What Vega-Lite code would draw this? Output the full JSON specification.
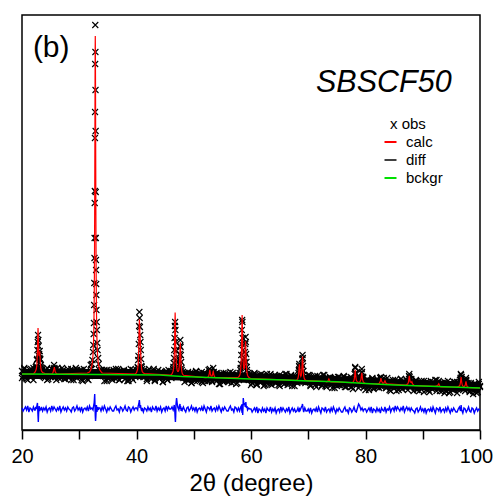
{
"$schema": "https://vega.github.io/schema/vega-lite/v6.json",
"width": 458, "height": 415,
"padding": {"left": 10, "top": 15, "right": 2, "bottom": 2},
"config": {"font": "Liberation Sans", "view": {"stroke": "black", "strokeWidth": 1.5}},
"data": {"values": [
{"t":20,"o":59,"p":52,"c":56,"d":22},{"t":20.2,"o":54,"p":58,"d":19},{"t":20.4,"o":61,"p":62,"d":21},{"t":20.6,"o":52,"p":55,"d":23},{"t":20.8,"o":57,"p":51,"d":20},{"t":21,"o":50,"p":59,"d":24},{"t":21.2,"o":58,"p":56,"d":18},{"t":21.4,"o":60,"p":53,"d":22},{"t":21.6,"o":53,"p":61,"d":21},{"t":21.8,"o":56,"p":57,"d":19},{"t":22,"o":62,"p":50,"d":23,"c":56},{"t":22.2,"o":55,"p":60,"d":20},
{"t":22.3,"o":60,"c":58,"d":20},{"t":22.35,"o":56},{"t":22.4,"o":63,"d":23},{"t":22.45,"o":58},{"t":22.5,"o":64,"c":61,"d":21},{"t":22.55,"o":62},{"t":22.6,"o":70,"c":65.5,"d":24},{"t":22.65,"o":71},{"t":22.7,"o":80,"c":79,"d":27},{"t":22.75,"o":88,"c":92.6},{"t":22.8,"o":95,"c":102,"d":14},{"t":22.85,"o":90,"c":93.7,"d":8},{"t":22.9,"o":84,"c":81.6,"d":16},{"t":22.95,"o":74,"c":75},{"t":23,"o":76,"c":73.8,"d":24},{"t":23.05,"o":72,"c":76.5},{"t":23.1,"o":79,"c":78.4,"d":19},{"t":23.15,"o":70,"c":73.7},{"t":23.2,"o":71,"c":67.6,"d":22},{"t":23.25,"o":63},{"t":23.3,"o":65,"c":61.3,"d":20},{"t":23.35,"o":58},{"t":23.4,"o":62,"c":59,"d":23},{"t":23.45,"o":57},{"t":23.5,"o":60},{"t":23.6,"o":61,"p":54,"c":57.4,"d":19},{"t":23.8,"o":53,"p":58,"d":22},
{"t":24,"o":55,"p":52,"d":20,"c":56.5},{"t":24.2,"o":60,"p":56,"d":23},{"t":24.4,"o":50,"p":62,"d":18},{"t":24.6,"o":58,"p":51,"d":21},{"t":24.8,"o":56,"p":59,"d":22},{"t":25,"o":53,"p":55,"d":19},{"t":25.2,"o":61,"p":61,"d":24,"c":56},{"t":25.4,"o":55,"p":53,"d":20,"c":57},{"t":25.6,"o":65,"p":61,"d":23,"c":61.6},{"t":25.65,"o":62,"c":63},{"t":25.8,"o":53,"p":61,"d":21,"c":58.2},{"t":26,"o":57,"p":50,"d":19,"c":56.5},{"t":26.2,"o":62,"p":57,"d":22,"c":56},{"t":26.4,"o":52,"p":60,"d":20},{"t":26.6,"o":55,"p":54,"d":24},{"t":26.8,"o":58,"p":52,"d":18},{"t":27,"o":53,"p":62,"d":21},{"t":27.2,"o":60,"p":58,"d":23},{"t":27.4,"o":56,"p":51,"d":20},{"t":27.6,"o":51,"p":56,"d":22},{"t":27.8,"o":59,"p":55,"d":19},
{"t":28,"o":58,"p":61,"d":23},{"t":28.2,"o":52,"p":53,"d":21},{"t":28.4,"o":57,"p":57,"d":20},{"t":28.6,"o":61,"p":50,"d":18},{"t":28.8,"o":54,"p":60,"d":22},{"t":29,"o":50,"p":58,"d":23},{"t":29.2,"o":59,"p":55,"d":19},{"t":29.4,"o":56,"p":62,"d":21},{"t":29.6,"o":60,"p":52,"d":24},{"t":29.8,"o":53,"p":56,"d":20},{"t":30,"o":54,"p":58,"d":22},{"t":30.2,"o":60,"p":53,"d":19},{"t":30.4,"o":50,"p":60,"d":23},{"t":30.6,"o":57,"p":49,"d":18},{"t":30.8,"o":61,"p":57,"d":21},{"t":31,"o":53,"p":52,"d":22},{"t":31.2,"o":56,"p":59,"d":20},{"t":31.4,"o":51,"p":55,"d":23,"c":57},{"t":31.6,"o":58,"p":50,"d":19},{"t":31.8,"o":54,"p":56,"d":24,"c":58},
{"t":32,"o":57,"p":65,"d":21,"c":60},{"t":32.1,"o":61,"c":62},{"t":32.2,"o":66,"c":64,"d":22},{"t":32.3,"o":70,"c":68},{"t":32.4,"o":78,"c":75,"d":20},{"t":32.46,"o":85},{"t":32.5,"c":89,"d":24},{"t":32.52,"o":96},{"t":32.55,"c":102},{"t":32.56,"o":107},{"t":32.6,"o":125,"c":123,"d":27},{"t":32.63,"o":147},{"t":32.64,"c":150},{"t":32.65,"d":31},{"t":32.66,"o":172},{"t":32.67,"c":181},{"t":32.68,"o":192},{"t":32.7,"o":227,"c":225,"d":36},{"t":32.72,"o":239,"c":262},{"t":32.74,"o":292,"c":304},{"t":32.75,"d":25},{"t":32.76,"o":318,"c":347},{"t":32.78,"o":366,"c":381},{"t":32.8,"o":405,"c":394,"d":14},{"t":32.82,"o":378,"c":381},{"t":32.84,"o":340,"c":347},{"t":32.85,"d":9},{"t":32.86,"o":299,"c":304},{"t":32.88,"o":238,"c":262},{"t":32.9,"o":192,"c":225,"d":13},{"t":32.92,"o":170},{"t":32.93,"c":181},{"t":32.94,"o":160},{"t":32.95,"d":19},{"t":32.96,"o":146,"c":150},{"t":32.98,"o":135},{"t":33,"o":120,"c":123,"d":25},{"t":33.04,"o":108},{"t":33.05,"c":102},{"t":33.08,"o":100},{"t":33.1,"c":89,"d":18},{"t":33.14,"o":87},{"t":33.2,"o":80,"c":75,"d":23},{"t":33.3,"o":72,"c":68,"d":20},{"t":33.4,"o":66,"c":64,"d":22},{"t":33.5,"o":60,"c":62},{"t":33.6,"o":56,"p":56,"d":22,"c":60},{"t":33.8,"o":60,"p":56,"d":19,"c":58.4},
{"t":34,"o":56,"p":60,"d":23,"c":57},{"t":34.2,"o":58,"p":54,"d":20},{"t":34.4,"o":49,"p":60,"d":24},{"t":34.6,"o":55,"p":58,"d":21},{"t":34.8,"o":60,"p":49,"d":18},{"t":35,"o":52,"p":57,"d":22},{"t":35.2,"o":57,"p":59,"d":20},{"t":35.4,"o":53,"p":54,"d":23},{"t":35.6,"o":59,"p":51,"d":21},{"t":35.8,"o":50,"p":55,"d":19},
{"t":36,"o":56,"p":60,"d":19},{"t":36.2,"o":54,"p":52,"d":22},{"t":36.4,"o":61,"p":56,"d":24},{"t":36.6,"o":52,"p":53,"d":20},{"t":36.8,"o":58,"p":61,"d":21},{"t":37,"o":50,"p":50,"d":18},{"t":37.2,"o":55,"p":58,"d":23},{"t":37.4,"o":59,"p":55,"d":22},{"t":37.6,"o":53,"p":54,"d":19},{"t":37.8,"o":60,"p":59,"d":21},{"t":38,"o":51,"p":51,"d":24},{"t":38.2,"o":57,"p":57,"d":20},{"t":38.4,"o":54,"p":49,"d":19},{"t":38.6,"o":49,"p":51,"d":23},{"t":38.8,"o":58,"p":57,"d":22},{"t":39,"o":56,"p":61,"d":18},{"t":39.2,"o":52,"p":54,"d":21},{"t":39.4,"o":60,"p":50,"d":23},{"t":39.6,"o":55,"p":58,"d":20},{"t":39.8,"o":53,"p":55,"d":22,"c":56},
{"t":39.9,"o":57},{"t":40,"o":60,"c":57.4,"d":22},{"t":40.1,"o":56},{"t":40.2,"o":63,"c":60.9,"d":20},{"t":40.25,"o":62},{"t":40.3,"o":70,"c":66.4,"d":24},{"t":40.35,"o":74},{"t":40.4,"o":86,"c":82.5,"d":26},{"t":40.45,"o":104,"c":98.6},{"t":40.5,"o":118,"c":110.8,"d":30},{"t":40.55,"o":112,"c":105.2,"d":27},{"t":40.6,"o":103,"c":97.1,"d":22},{"t":40.65,"o":95,"c":92.1},{"t":40.7,"o":88,"c":82.4,"d":25},{"t":40.75,"o":80},{"t":40.8,"o":71,"c":66.7,"d":21},{"t":40.85,"o":64},{"t":40.9,"o":63,"c":60.9,"d":19},{"t":40.95,"o":58},{"t":41,"o":61,"c":58.5,"d":22},
{"t":41.2,"o":58,"p":53,"d":18,"c":57},{"t":41.4,"o":53,"p":60,"d":22,"c":56.5},{"t":41.6,"o":58,"p":56,"d":21},{"t":41.8,"o":51,"p":49,"d":19},{"t":42,"o":55,"p":59,"d":23},{"t":42.2,"o":61,"p":53,"d":20},{"t":42.4,"o":52,"p":57,"d":22},{"t":42.6,"o":57,"p":51,"d":18},{"t":42.8,"o":54,"p":55,"d":23},{"t":43,"o":59,"p":61,"d":21},{"t":43.2,"o":49,"p":50,"d":20},{"t":43.4,"o":56,"p":58,"d":24},{"t":43.6,"o":58,"p":54,"d":19},{"t":43.8,"o":53,"p":60,"d":22},
{"t":44,"o":52,"p":51,"d":20},{"t":44.2,"o":57,"p":54,"d":23},{"t":44.4,"o":58,"p":57,"d":18},{"t":44.6,"o":48,"p":48,"d":21},{"t":44.8,"o":55,"p":55,"d":22},{"t":45,"o":53,"p":58,"d":19},{"t":45.2,"o":59,"p":52,"d":24},{"t":45.4,"o":50,"p":50,"d":20},{"t":45.6,"o":54,"p":60,"d":23},{"t":45.8,"o":56,"p":56,"d":21,"c":55},
{"t":46,"o":57,"c":55.1,"d":21},{"t":46.1,"o":52},{"t":46.2,"o":58,"c":56,"d":23},{"t":46.3,"o":55},{"t":46.4,"o":61,"c":58.9,"d":20},{"t":46.45,"o":63},{"t":46.5,"o":67,"c":62.9,"d":22},{"t":46.55,"o":72},{"t":46.6,"o":80,"c":73.7,"d":25},{"t":46.65,"o":92,"c":85.8},{"t":46.7,"o":104,"c":104.8,"d":18},{"t":46.75,"o":108,"c":117.4,"d":12},{"t":46.8,"o":100,"c":104.9,"d":8},{"t":46.85,"o":88,"c":86,"d":14},{"t":46.9,"o":79,"c":74,"d":26},{"t":46.95,"o":70},{"t":47,"o":68,"c":63.5,"d":32},{"t":47.1,"o":62,"c":59.8,"d":27},{"t":47.2,"o":60,"c":58.5,"d":23},{"t":47.3,"o":57,"c":58.5},{"t":47.4,"o":63,"c":60,"d":20},{"t":47.45,"o":66},{"t":47.5,"o":70,"c":65.3,"d":24},{"t":47.55,"o":76,"c":71.4},{"t":47.6,"o":84,"c":81.2,"d":26},{"t":47.65,"o":90,"c":87.7,"d":21},{"t":47.7,"o":83,"c":81,"d":24},{"t":47.75,"o":75,"c":71},{"t":47.8,"o":68,"c":64.6,"d":19},{"t":47.85,"o":62},{"t":47.9,"o":60,"c":58.9,"d":22},{"t":48,"o":55,"c":56.4,"d":20},{"t":48.1,"o":58},{"t":48.2,"o":52,"c":54.7,"d":23},
{"t":48.4,"o":55,"p":48,"d":20},{"t":48.6,"o":53,"p":53,"d":18},{"t":48.8,"o":50,"p":52,"d":22},{"t":49,"o":56,"p":58,"d":23},{"t":49.2,"o":51,"p":50,"d":19},{"t":49.4,"o":57,"p":54,"d":21},{"t":49.6,"o":47,"p":47,"d":24},{"t":49.8,"o":54,"p":57,"d":20},{"t":50,"o":55,"p":55,"d":22},{"t":50.2,"o":49,"p":52,"d":19},{"t":50.4,"o":58,"p":59,"d":23},{"t":50.6,"o":52,"p":49,"d":18},{"t":50.8,"o":50,"p":53,"d":21},{"t":51,"o":53,"p":56,"d":22},{"t":51.2,"o":56,"p":51,"d":20},{"t":51.4,"o":48,"p":58,"d":23},{"t":51.6,"o":54,"p":47,"d":19},{"t":51.8,"o":57,"p":55,"d":24},
{"t":52,"o":52,"p":49,"d":21,"c":52.3},{"t":52.2,"o":54,"p":56,"d":18},{"t":52.4,"o":49,"p":52,"d":23,"c":52.6},{"t":52.6,"o":60,"p":49,"d":22,"c":53.7},{"t":52.7,"o":57,"c":56.1},{"t":52.8,"o":58,"p":61,"d":20,"c":60.2},{"t":52.9,"o":59,"c":56.3},{"t":53,"o":55,"p":58,"d":24,"c":54},{"t":53.2,"o":48,"p":49,"d":19,"c":53.9},{"t":53.3,"o":57,"c":55.7},{"t":53.4,"o":62,"p":57,"d":21,"c":59.2},{"t":53.5,"o":58,"c":55.7},{"t":53.6,"o":52,"p":56,"d":22,"c":53.5},{"t":53.8,"o":56,"p":51,"d":19,"c":52.4},{"t":54,"o":49,"p":57,"d":23},{"t":54.2,"o":52,"p":55,"d":20},{"t":54.4,"o":54,"p":46,"d":24},{"t":54.6,"o":46,"p":54,"d":21},{"t":54.8,"o":56,"p":56,"d":18},{"t":55,"o":50,"p":51,"d":22},{"t":55.2,"o":57,"p":48,"d":20},{"t":55.4,"o":49,"p":52,"d":23},{"t":55.6,"o":53,"p":57,"d":21},{"t":55.8,"o":51,"p":49,"d":19},
{"t":56,"o":48,"p":53,"d":19},{"t":56.2,"o":53,"p":50,"d":22},{"t":56.4,"o":55,"p":58,"d":24},{"t":56.6,"o":50,"p":47,"d":20},{"t":56.8,"o":57,"p":55,"d":21},{"t":57,"o":48,"p":51,"d":18},{"t":57.2,"o":51,"p":50,"d":23},{"t":57.4,"o":46,"p":55,"d":22},{"t":57.6,"o":55,"p":47,"d":19,"c":52.5},
{"t":57.8,"o":55,"c":52.7,"d":22},{"t":57.9,"o":50},{"t":58,"o":57,"c":54.3,"d":19},{"t":58.1,"o":54,"c":56.1},{"t":58.15,"o":60},{"t":58.2,"o":62,"c":60.2,"d":23},{"t":58.25,"o":66},{"t":58.3,"o":75,"c":71,"d":24},{"t":58.35,"o":86,"c":83.2},{"t":58.4,"o":100,"c":102.2,"d":19},{"t":58.45,"o":110,"c":115,"d":17},{"t":58.5,"o":108,"c":102.5,"d":26},{"t":58.55,"o":92,"c":83.9,"d":15},{"t":58.6,"o":80,"c":72,"d":22},{"t":58.65,"o":70,"d":32},{"t":58.7,"o":66,"c":62.4,"d":29},{"t":58.75,"o":62},{"t":58.8,"o":65,"c":60.7,"d":25},{"t":58.85,"o":68},{"t":58.9,"o":72,"c":65.1,"d":27},{"t":58.95,"o":78,"c":71.4},{"t":59,"o":86,"c":81.8,"d":23},{"t":59.05,"o":93,"c":88.7,"d":25},{"t":59.1,"o":88,"c":81.3,"d":28},{"t":59.15,"o":76,"c":70.3},{"t":59.2,"o":68,"c":63.3,"d":22},{"t":59.25,"o":63},{"t":59.3,"o":60,"c":57,"d":24},{"t":59.4,"o":55,"c":54.5,"d":20},{"t":59.5,"o":57},{"t":59.6,"o":50,"c":52.7,"d":22},{"t":59.8,"o":56,"p":53,"d":21,"c":52},
{"t":60,"o":53,"p":45,"d":21,"c":51.5},{"t":60.2,"o":47,"p":47,"d":18},{"t":60.4,"o":52,"p":53,"d":20},{"t":60.6,"o":56,"p":57,"d":22},{"t":60.8,"o":49,"p":50,"d":19},{"t":61,"o":45,"p":46,"d":23},{"t":61.2,"o":54,"p":54,"d":17},{"t":61.4,"o":51,"p":51,"d":21},{"t":61.6,"o":55,"p":48,"d":20},{"t":61.8,"o":48,"p":56,"d":18},{"t":62,"o":49,"p":51,"d":22},{"t":62.2,"o":55,"p":44,"d":19},{"t":62.4,"o":45,"p":54,"d":21},{"t":62.6,"o":52,"p":48,"d":17},{"t":62.8,"o":56,"p":52,"d":22},{"t":63,"o":48,"p":46,"d":20},{"t":63.2,"o":51,"p":50,"d":19},{"t":63.4,"o":46,"p":56,"d":23},{"t":63.6,"o":53,"p":45,"d":18},{"t":63.8,"o":49,"p":53,"d":21},
{"t":64,"o":54,"p":49,"d":19},{"t":64.2,"o":47,"p":55,"d":22},{"t":64.4,"o":49,"p":47,"d":17},{"t":64.6,"o":52,"p":50,"d":20},{"t":64.8,"o":45,"p":53,"d":21},{"t":65,"o":55,"p":44,"d":18},{"t":65.2,"o":51,"p":51,"d":23},{"t":65.4,"o":48,"p":54,"d":19},{"t":65.6,"o":53,"p":48,"d":22},{"t":65.8,"o":46,"p":46,"d":20},{"t":66,"o":50,"p":56,"d":18},{"t":66.2,"o":56,"p":52,"d":21},{"t":66.4,"o":47,"p":45,"d":19},{"t":66.6,"o":52,"p":50,"d":23},{"t":66.8,"o":49,"p":49,"d":17},{"t":67,"o":54,"p":55,"d":20},{"t":67.2,"o":44,"p":47,"d":22},{"t":67.4,"o":51,"p":51,"d":19},{"t":67.6,"o":53,"p":44,"d":21},{"t":67.8,"o":48,"p":54,"d":18,"c":49.7},
{"t":68,"o":52,"c":50,"d":19},{"t":68.1,"o":47},{"t":68.2,"o":54,"c":51.6,"d":22},{"t":68.3,"o":57,"c":54.4},{"t":68.35,"o":60},{"t":68.4,"o":64,"c":62.5,"d":18},{"t":68.45,"o":66,"c":65.8},{"t":68.5,"o":63,"c":62.7,"d":21},{"t":68.55,"o":58},{"t":68.6,"o":56,"c":55.3,"d":20},{"t":68.7,"o":52,"c":53.6},{"t":68.8,"o":57,"c":55,"d":23},{"t":68.85,"o":61},{"t":68.9,"o":66,"c":61.8,"d":24},{"t":68.95,"o":71,"c":68.8},{"t":69,"o":75,"c":73.5,"d":26},{"t":69.05,"o":72,"c":68.6},{"t":69.1,"o":64,"c":61.4,"d":21},{"t":69.15,"o":59},{"t":69.2,"o":55,"c":54,"d":18},{"t":69.3,"o":50,"c":51.7},{"t":69.4,"o":53,"c":50.4,"d":22},{"t":69.5,"o":47},{"t":69.6,"o":51,"c":49.7,"d":19},
{"t":69.8,"o":49,"p":51,"d":19},{"t":70,"o":55,"p":48,"d":21},{"t":70.2,"o":48,"p":55,"d":18},{"t":70.4,"o":44,"p":45,"d":22},{"t":70.6,"o":51,"p":49,"d":17},{"t":70.8,"o":47,"p":52,"d":20},{"t":71,"o":53,"p":47,"d":21},{"t":71.2,"o":45,"p":54,"d":19},{"t":71.4,"o":50,"p":43,"d":22},{"t":71.6,"o":54,"p":51,"d":18},{"t":71.8,"o":46,"p":46,"d":23},
{"t":72,"o":49,"p":53,"d":20},{"t":72.2,"o":51,"p":49,"d":17},{"t":72.4,"o":45,"p":44,"d":22},{"t":72.6,"o":55,"p":50,"d":21},{"t":72.8,"o":47,"p":55,"d":19},{"t":73,"o":49,"p":44,"d":23,"c":48.5},{"t":73.2,"o":43,"p":46,"d":18,"c":48.2},{"t":73.4,"o":52,"p":51,"d":20,"c":48.6},{"t":73.6,"o":50,"p":50,"d":21,"c":51},{"t":73.8,"o":52,"p":53,"d":18,"c":48.6},{"t":74,"o":45,"p":51,"d":22,"c":48.2},{"t":74.2,"o":48,"p":42,"d":19},{"t":74.4,"o":50,"p":50,"d":23},{"t":74.6,"o":42,"p":52,"d":20},{"t":74.8,"o":52,"p":47,"d":17},{"t":75,"o":46,"p":44,"d":21},{"t":75.2,"o":53,"p":48,"d":19},{"t":75.4,"o":45,"p":53,"d":22},{"t":75.6,"o":49,"p":45,"d":20},{"t":75.8,"o":47,"p":49,"d":18},
{"t":76,"o":45,"p":46,"d":18},{"t":76.2,"o":53,"p":54,"d":21},{"t":76.4,"o":48,"p":43,"d":23},{"t":76.6,"o":43,"p":51,"d":19},{"t":76.8,"o":52,"p":48,"d":20},{"t":77,"o":48,"p":46,"d":17},{"t":77.2,"o":45,"p":51,"d":22},{"t":77.4,"o":53,"p":43,"d":21},{"t":77.6,"o":43,"p":49,"d":18,"c":47.4},{"t":77.8,"o":50,"p":41,"d":20,"c":47.8},{"t":78,"o":49,"p":46,"d":23,"c":49.6},{"t":78.1,"o":56,"c":53.5},{"t":78.2,"o":63,"p":62,"d":19,"c":60.1},{"t":78.3,"o":57,"c":53.6},{"t":78.4,"o":47,"p":56,"d":18,"c":49.7},{"t":78.6,"o":48,"p":47,"d":22,"c":48},{"t":78.8,"o":52,"p":42,"d":26,"c":47.7},{"t":79,"o":44,"p":50,"d":24,"c":47.9},{"t":79.2,"o":52,"p":50,"d":20,"c":50.3},{"t":79.3,"o":57,"c":55.1},{"t":79.35,"o":61,"c":57.1},{"t":79.4,"o":58,"p":52,"d":22,"c":55},{"t":79.5,"o":53,"c":50.1},{"t":79.6,"o":52,"p":53,"d":19,"c":48.2},{"t":79.8,"o":43,"p":48,"d":21,"c":47},
{"t":80,"o":44,"p":40,"d":21,"c":46.5},{"t":80.2,"o":49,"p":50,"d":18},{"t":80.4,"o":50,"p":44,"d":20},{"t":80.6,"o":40,"p":48,"d":22},{"t":80.8,"o":47,"p":42,"d":19},{"t":81,"o":45,"p":46,"d":23},{"t":81.2,"o":51,"p":52,"d":17},{"t":81.4,"o":42,"p":41,"d":21},{"t":81.6,"o":46,"p":49,"d":20},{"t":81.8,"o":48,"p":45,"d":18},{"t":82,"o":43,"p":51,"d":22},{"t":82.2,"o":50,"p":43,"d":19,"c":46.2},{"t":82.4,"o":42,"p":46,"d":21,"c":46.6},{"t":82.6,"o":52,"p":52,"d":17,"c":49},{"t":82.7,"o":53,"c":52},{"t":82.8,"o":50,"p":43,"d":22,"c":49.1},{"t":83,"o":44,"p":47,"d":20,"c":46.8},{"t":83.2,"o":52,"p":50,"d":19,"c":46.8},{"t":83.4,"o":48,"p":47,"d":23,"c":49.2},{"t":83.6,"o":42,"p":42,"d":18,"c":46.6},{"t":83.8,"o":48,"p":52,"d":21,"c":46.2},
{"t":84,"o":44,"p":47,"d":20},{"t":84.2,"o":49,"p":40,"d":23},{"t":84.4,"o":39,"p":45,"d":18},{"t":84.6,"o":47,"p":44,"d":21},{"t":84.8,"o":45,"p":50,"d":22},{"t":85,"o":42,"p":42,"d":19},{"t":85.2,"o":50,"p":46,"d":24},{"t":85.4,"o":43,"p":39,"d":20},{"t":85.6,"o":48,"p":49,"d":23},{"t":85.8,"o":40,"p":47,"d":21},{"t":86,"o":46,"p":44,"d":19},{"t":86.2,"o":51,"p":51,"d":22},{"t":86.4,"o":41,"p":41,"d":20},{"t":86.6,"o":44,"p":45,"d":24},{"t":86.8,"o":47,"p":48,"d":18},{"t":87,"o":42,"p":43,"d":21,"c":45},{"t":87.2,"o":49,"p":50,"d":23,"c":45.4},{"t":87.4,"o":46,"p":40,"d":20,"c":46.2},{"t":87.5,"o":49,"c":47.8},{"t":87.6,"o":51,"p":54,"d":22,"c":52.4},{"t":87.65,"o":56,"c":54.2},{"t":87.7,"o":53,"c":52.4},{"t":87.8,"o":51,"p":45,"d":19,"c":48.2},
{"t":88,"o":44,"p":51,"d":22,"c":47.5},{"t":88.1,"o":49,"c":48.4},{"t":88.2,"o":47,"p":46,"d":20,"c":46.3},{"t":88.4,"o":47,"p":39,"d":19,"c":44.9},{"t":88.6,"o":42,"p":45,"d":17,"c":44.3},{"t":88.8,"o":49,"p":50,"d":21},{"t":89,"o":41,"p":40,"d":22},{"t":89.2,"o":44,"p":42,"d":18},{"t":89.4,"o":39,"p":47,"d":20},{"t":89.6,"o":48,"p":43,"d":23},{"t":89.8,"o":46,"p":49,"d":19},{"t":90,"o":43,"p":47,"d":21},{"t":90.2,"o":49,"p":38,"d":18},{"t":90.4,"o":42,"p":46,"d":22},{"t":90.6,"o":40,"p":48,"d":17},{"t":90.8,"o":45,"p":43,"d":20},{"t":91,"o":47,"p":40,"d":21},{"t":91.2,"o":38,"p":44,"d":19},{"t":91.4,"o":46,"p":49,"d":22},{"t":91.6,"o":44,"p":41,"d":18},{"t":91.8,"o":48,"p":45,"d":23},
{"t":92,"o":45,"p":42,"d":20},{"t":92.2,"o":43,"p":50,"d":17,"c":43.6},{"t":92.4,"o":50,"p":39,"d":22,"c":44.2},{"t":92.6,"o":42,"p":47,"d":21,"c":44.5},{"t":92.8,"o":49,"p":46,"d":19,"c":46.3},{"t":93,"o":39,"p":42,"d":23,"c":43.5},{"t":93.2,"o":43,"p":47,"d":18,"c":43.1},{"t":93.4,"o":47,"p":39,"d":20},{"t":93.6,"o":41,"p":45,"d":21},{"t":93.8,"o":48,"p":37,"d":18},{"t":94,"o":39,"p":39,"d":22},{"t":94.2,"o":45,"p":45,"d":19},{"t":94.4,"o":42,"p":49,"d":23},{"t":94.6,"o":37,"p":42,"d":20},{"t":94.8,"o":46,"p":38,"d":17},{"t":95,"o":44,"p":46,"d":21},{"t":95.2,"o":40,"p":43,"d":19},{"t":95.4,"o":48,"p":40,"d":22},{"t":95.6,"o":43,"p":48,"d":20},{"t":95.8,"o":41,"p":44,"d":18},
{"t":96,"o":48,"p":37,"d":18,"c":43},{"t":96.2,"o":40,"p":47,"d":21,"c":43.4},{"t":96.4,"o":46,"p":42,"d":23,"c":44},{"t":96.5,"o":50,"c":45},{"t":96.6,"o":52,"p":50,"d":19,"c":48},{"t":96.65,"o":56},{"t":96.7,"o":55,"c":53,"d":25},{"t":96.8,"o":53,"p":44,"d":20,"c":48},{"t":96.9,"o":49,"c":45},{"t":97,"o":46,"p":43,"d":17,"c":44},{"t":97.2,"o":41,"p":48,"d":22,"c":43.3},{"t":97.4,"o":48,"p":39,"d":21,"c":44.5},{"t":97.5,"o":50,"c":47.4},{"t":97.55,"o":52,"c":48.6},{"t":97.6,"o":49,"p":50,"d":18,"c":47.2},{"t":97.7,"o":47,"c":44.2},{"t":97.8,"o":44,"p":42,"d":20,"c":43.2},{"t":98,"o":44,"p":47,"d":23,"c":42.6},{"t":98.2,"o":38,"p":39,"d":19,"c":42.4},{"t":98.4,"o":47,"p":42,"d":18},{"t":98.6,"o":41,"p":45,"d":22},{"t":98.8,"o":39,"p":36,"d":21},{"t":99,"o":42,"p":43,"d":17},{"t":99.2,"o":45,"p":46,"d":20},{"t":99.4,"o":37,"p":40,"d":22},{"t":99.6,"o":43,"p":38,"d":19},{"t":99.8,"o":46,"p":48,"d":21},{"t":100,"o":43,"p":44,"d":20,"c":42}
]},
"layer": [
{"data": {"values": [{"t":20,"lo":51,"hi":61},{"t":30,"lo":51,"hi":61},{"t":40,"lo":51,"hi":61},{"t":45,"lo":50,"hi":60},{"t":50,"lo":49,"hi":59},{"t":55,"lo":48,"hi":58},{"t":60,"lo":47,"hi":57},{"t":65,"lo":46,"hi":56},{"t":70,"lo":45,"hi":55},{"t":75,"lo":44,"hi":54},{"t":80,"lo":42.5,"hi":52.5},{"t":85,"lo":41,"hi":51},{"t":90,"lo":40,"hi":50},{"t":95,"lo":39,"hi":49},{"t":100,"lo":38,"hi":48}]},
 "mark": {"type": "area", "color": "black", "opacity": 1},
 "encoding": {
  "x": {"field": "t", "type": "quantitative", "scale": {"domain": [20, 100], "nice": false, "zero": false},
        "axis": {"title": "2θ (degree)", "values": [20,30,40,50,60,70,80,90,100], "labelExpr": "datum.value % 20 === 0 ? datum.label : ''", "grid": false, "tickSize": 9, "tickWidth": 1.5, "tickColor": "black", "domainColor": "black", "domainWidth": 1.5, "labelFontSize": 20, "labelColor": "black", "labelPadding": 7, "labelFlush": false, "labelOverlap": false, "titleFontSize": 24, "titleFontWeight": "normal", "titleColor": "black", "titlePadding": 5,
                 "labelOffset": {"condition": {"test": "datum.value === 100", "value": -4}, "value": 0}}},
  "y": {"field": "lo", "type": "quantitative", "scale": {"domain": [0, 415], "nice": false, "zero": false}, "axis": null},
  "y2": {"field": "hi"}
 }},
{"transform": [{"filter": "isValid(datum.o)"}],
 "mark": {"type": "point", "shape": "M-1,-1L1,1M1,-1L-1,1", "filled": false, "size": 36, "strokeWidth": 1.1, "opacity": 1},
 "encoding": {
  "x": {"field": "t", "type": "quantitative"},
  "y": {"field": "o", "type": "quantitative"},
  "color": {"datum": "obs", "type": "nominal",
            "scale": {"domain": ["obs", "calc", "diff", "bckgr", "d2"], "range": ["#000000", "#ff0000", "#404040", "#00e000", "#0000ff"]},
            "legend": {"title": null, "orient": "none", "legendX": 361, "legendY": 119.5, "values": ["calc", "diff", "bckgr"], "symbolType": "stroke", "symbolSize": 144, "symbolStrokeWidth": 2, "labelFontSize": 15, "labelFont": "Liberation Sans", "labelColor": "black", "labelOffset": 8, "rowPadding": 2, "padding": 0}}
 }},
{"transform": [{"filter": "isValid(datum.p)"}],
 "mark": {"type": "point", "shape": "M-1,-1L1,1M1,-1L-1,1", "filled": false, "size": 36, "strokeWidth": 1.1, "opacity": 1},
 "encoding": {"x": {"field": "t", "type": "quantitative"}, "y": {"field": "p", "type": "quantitative"}, "color": {"datum": "obs", "type": "nominal"}}},
{"transform": [{"filter": "isValid(datum.c)"}],
 "mark": {"type": "line", "strokeWidth": 1.2},
 "encoding": {"x": {"field": "t", "type": "quantitative"}, "y": {"field": "c", "type": "quantitative"}, "color": {"datum": "calc", "type": "nominal"}}},
{"data": {"values": [{"t":20,"b":56},{"t":33,"b":55.5},{"t":44,"b":55},{"t":48,"b":53.5},{"t":55,"b":52},{"t":60,"b":51},{"t":66,"b":50},{"t":70,"b":49},{"t":75,"b":48.3},{"t":80,"b":46.5},{"t":85,"b":45},{"t":90,"b":44},{"t":95,"b":43},{"t":100,"b":42}]},
 "mark": {"type": "line", "strokeWidth": 1.5},
 "encoding": {"x": {"field": "t", "type": "quantitative"}, "y": {"field": "b", "type": "quantitative"}, "color": {"datum": "bckgr", "type": "nominal"}}},
{"transform": [{"filter": "isValid(datum.d)"}],
 "mark": {"type": "line", "strokeWidth": 1.4},
 "encoding": {"x": {"field": "t", "type": "quantitative"}, "y": {"field": "d", "type": "quantitative"}, "color": {"datum": "d2", "type": "nominal"}}},
{"data": {"values": [{"label": "(b)"}]},
 "mark": {"type": "text", "fontSize": 30, "align": "left", "baseline": "alphabetic", "color": "black"},
 "encoding": {"text": {"field": "label"}, "x": {"datum": 21.9}, "y": {"datum": 373}}},
{"data": {"values": [{"label": "SBSCF50"}]},
 "mark": {"type": "text", "fontSize": 30.5, "fontStyle": "italic", "align": "left", "baseline": "alphabetic", "color": "black"},
 "encoding": {"text": {"field": "label"}, "x": {"datum": 71.35}, "y": {"datum": 338}}},
{"data": {"values": [{"label": "x obs"}]},
 "mark": {"type": "text", "fontSize": 15, "align": "left", "baseline": "alphabetic", "color": "black"},
 "encoding": {"text": {"field": "label"}, "x": {"datum": 84.28}, "y": {"datum": 301}}}
]
}
